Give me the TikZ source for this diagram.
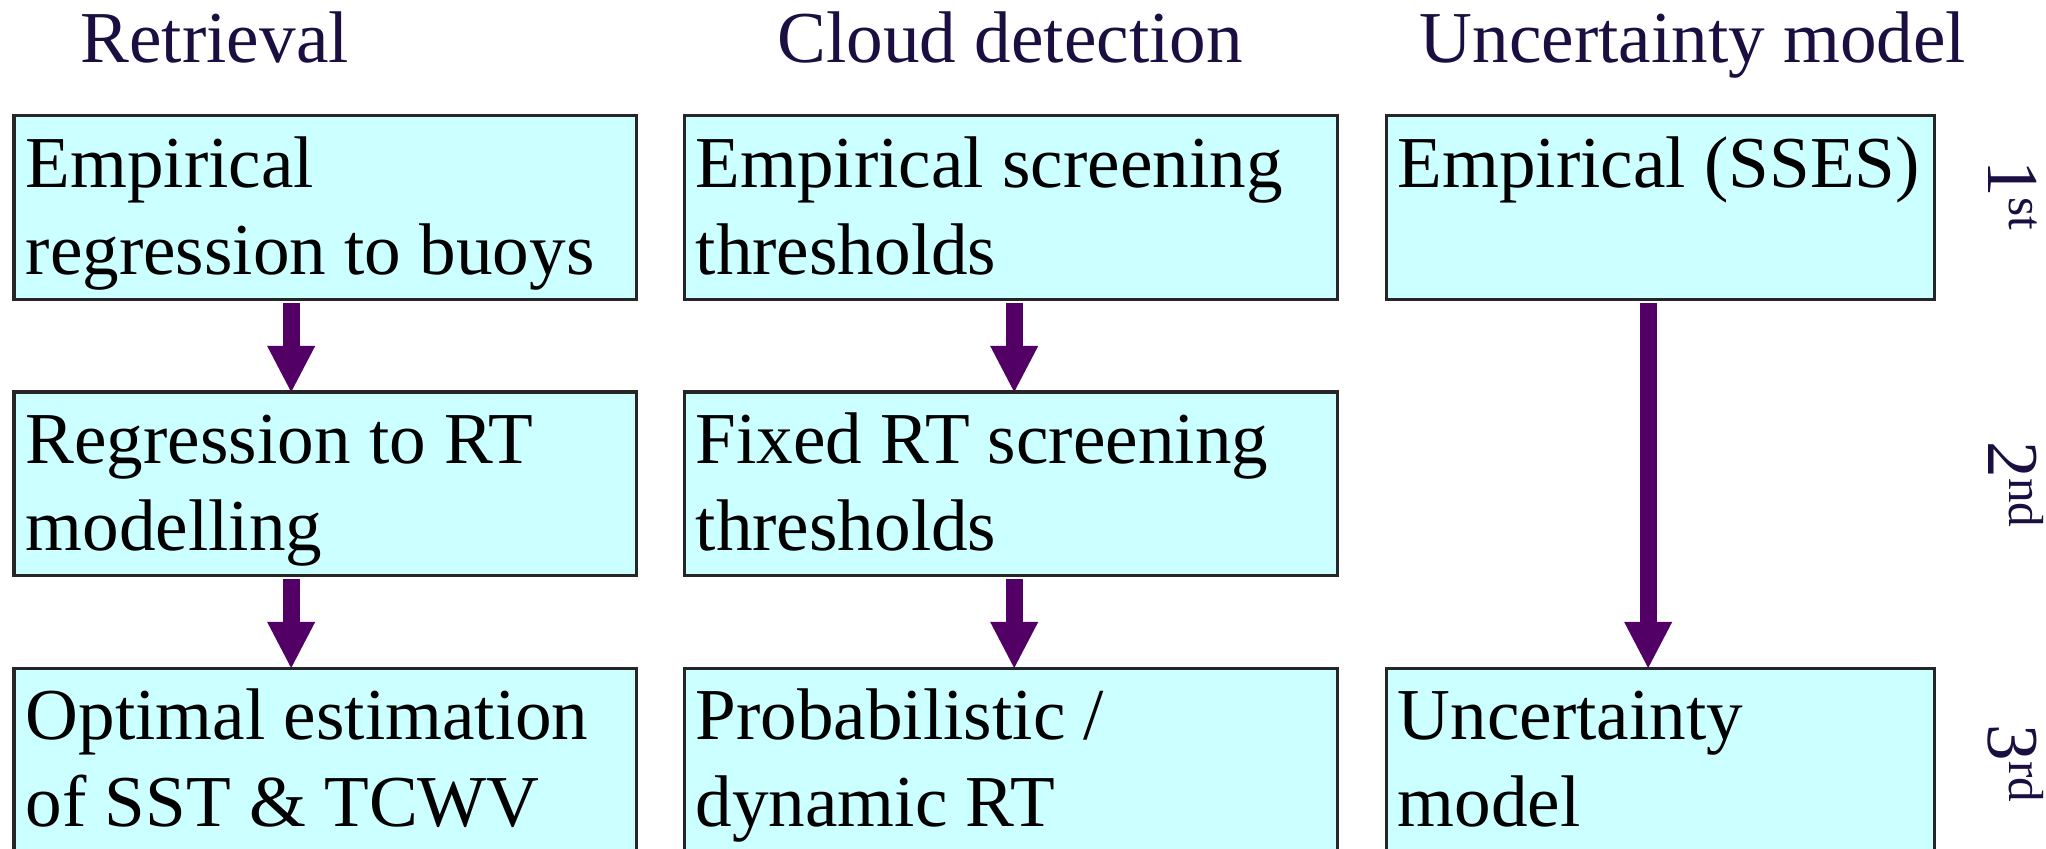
\documentclass[tikz,border=0pt]{standalone}
\usepackage{fontspec}
\setmainfont{Liberation Serif}
\usepackage{xcolor}
\usepackage{tikz}
\usetikzlibrary{arrows.meta,positioning}

\definecolor{boxfill}{HTML}{CCFFFF}
\definecolor{boxline}{HTML}{262626}
\definecolor{flowcol}{HTML}{520066}
\definecolor{headcol}{HTML}{1A0F40}
\newcommand{\stagefont}{\fontsize{20.8pt}{24.6pt}\selectfont}
\newcommand{\ordsup}[1]{\raisebox{0.3em}{\fontsize{14pt}{14pt}\selectfont #1}}

\begin{document}
\begin{tikzpicture}[x=0.01cm,y=-0.01cm,
	stage/.style={draw=boxline,fill=boxfill,line width=0.03cm,anchor=north west,inner sep=0pt,outer sep=0pt,minimum height=1.83cm},
	stageline/.style={anchor=base west,align=left,inner sep=0pt,font=\stagefont,xshift=0.11cm,yshift=-0.71cm},
	stagetext/.style={anchor=base west,align=left,inner sep=0pt,font=\stagefont,xshift=0.11cm,yshift=-1.58cm},
	colhead/.style={anchor=base west,inner sep=0pt,text=headcol,font=\stagefont},
	genlabel/.style={rotate=-90,anchor=base west,inner sep=0pt,text=headcol,font=\stagefont},
	flow/.style={draw=flowcol,line width=0.17cm,shorten <=0.04cm,-{Triangle[width=0.48cm,length=0.46cm,line width=0pt]}}]
				\useasboundingbox (0,0) rectangle (2046,849);
				\clip (0,0) rectangle (2046,849);
				
				\node [colhead] (hret) at (80,63) {Retrieval};
				\node [colhead] (hcld) at (777,63) {Cloud detection};
				\node [colhead] (hunc) at (1419,63) {Uncertainty model};
				
				\node [stage,minimum width=6.22cm] (ret1) at (14,116) {};
				\node [stage,minimum width=6.22cm] (ret2) at (14,392) {};
				\node [stage,minimum width=6.22cm,minimum height=1.85cm] (ret3) at (14,668) {};
				
				\node [stage,minimum width=6.53cm] (cld1) at (684,116) {};
				\node [stage,minimum width=6.53cm] (cld2) at (684,392) {};
				\node [stage,minimum width=6.53cm,minimum height=1.85cm] (cld3) at (684,668) {};
				
				\node [stage,minimum width=5.48cm] (unc1) at (1386,116) {};
				\node [stage,minimum width=5.48cm,minimum height=1.85cm] (unc3) at (1386,668) {};
				
				\node [stagetext] (ret1t) at (ret1.north west) {Empirical\\regression to buoys};
				\node [stagetext] (ret2t) at (ret2.north west) {Regression to RT\\modelling};
				\node [stagetext] (ret3t) at (ret3.north west) {Optimal estimation\\of SST \& TCWV};
				\node [stagetext] (cld1t) at (cld1.north west) {Empirical screening\\thresholds};
				\node [stagetext] (cld2t) at (cld2.north west) {Fixed RT screening\\thresholds};
				\node [stagetext] (cld3t) at (cld3.north west) {Probabilistic /\\dynamic RT};
				\node [stageline] (unc1t) at (unc1.north west) {Empirical (SSES)};
				\node [stagetext] (unc3t) at (unc3.north west) {Uncertainty\\model};
				
				% % % % % % % % % % % % % % % % % % % % % % % % % %
				
				\draw [flow] ([xshift=-0.34cm]ret1.south) -- ([xshift=-0.34cm]ret2.north);
				\draw [flow] ([xshift=-0.34cm]ret2.south) -- ([xshift=-0.34cm]ret3.north);
				\draw [flow] ([xshift=0.035cm]cld1.south) -- ([xshift=0.035cm]cld2.north);
				\draw [flow] ([xshift=0.035cm]cld2.south) -- ([xshift=0.035cm]cld3.north);
				\draw [flow] ([xshift=-0.12cm]unc1.south) -- ([xshift=-0.12cm]unc3.north);
				
				\node [genlabel] (gen1) at (1988,160) {1\ordsup{st}};
				\node [genlabel] (gen2) at (1988,441) {2\ordsup{nd}};
				\node [genlabel] (gen3) at (1988,724) {3\ordsup{rd}};
\end{tikzpicture}
\end{document}
